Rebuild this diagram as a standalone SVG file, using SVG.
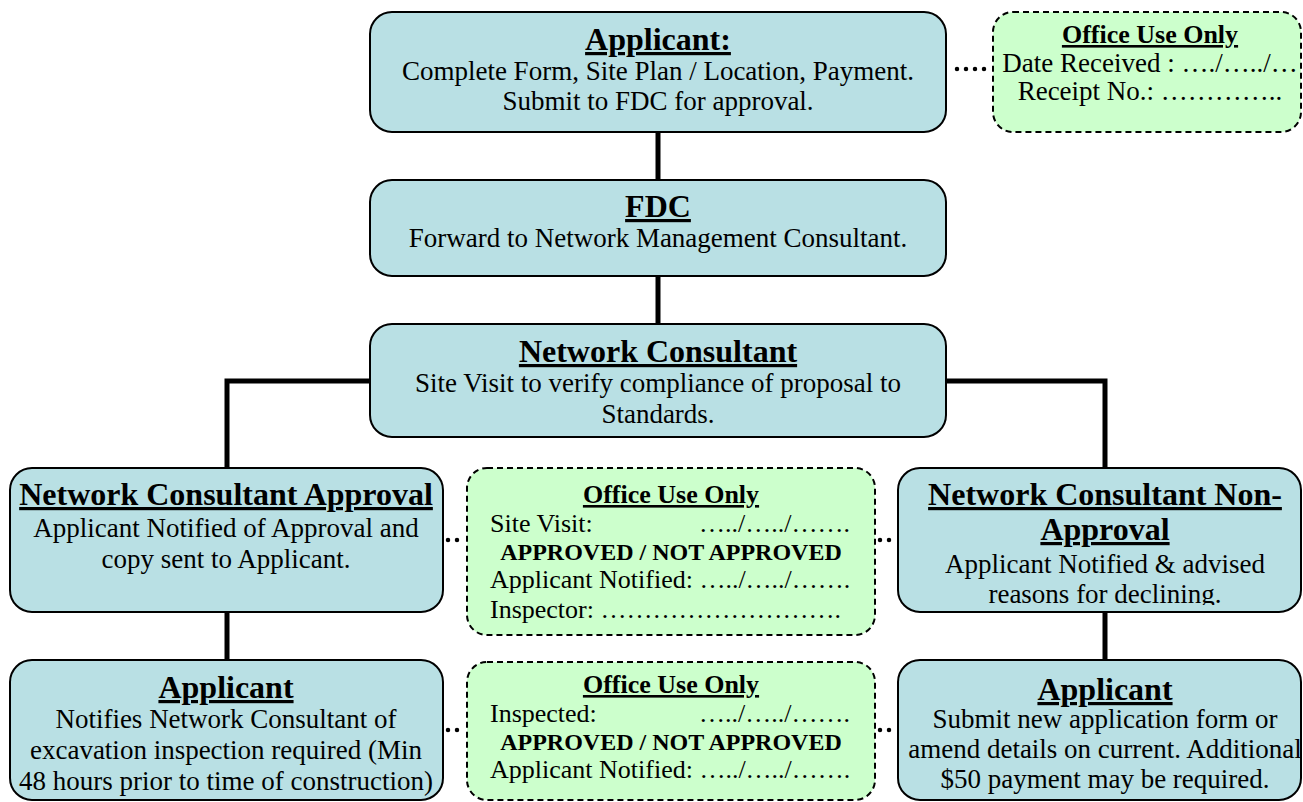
<svg xmlns="http://www.w3.org/2000/svg" width="1303" height="802" viewBox="0 0 1303 802">
<style>
.box{fill:#b9e0e4;stroke:#000;stroke-width:2}
.office{fill:#ccffcc;stroke:#000;stroke-width:2;stroke-dasharray:6 4}
.link{fill:none;stroke:#000;stroke-width:5}
.dots{fill:none;stroke:#000;stroke-width:4.5;stroke-linecap:round;stroke-dasharray:0 9}
text{font-family:"Liberation Serif","Times New Roman",serif;fill:#000}
.t{font-size:32px;font-weight:bold;text-anchor:middle;text-decoration:underline}
.b{font-size:27px;text-anchor:middle}
.ot{font-size:26px;font-weight:bold;text-anchor:middle;text-decoration:underline}
.ob{font-size:26px}
.obr{font-size:26px;text-anchor:end}
.oc{font-size:24px;font-weight:bold;text-anchor:middle}
</style>
<defs>
<clipPath id="clipNA"><rect x="898" y="468" width="405" height="137"/></clipPath>
</defs>
<rect width="1303" height="802" fill="#fff"/>
<g id="connectors">
<line class="link" x1="658" y1="132" x2="658" y2="180"/>
<line class="link" x1="658" y1="276" x2="658" y2="324"/>
<polyline class="link" points="370,381 227,381 227,468"/>
<polyline class="link" points="946,381 1105,381 1105,468"/>
<line class="link" x1="227" y1="612" x2="227" y2="660"/>
<line class="link" x1="1105" y1="612" x2="1105" y2="660"/>
<line class="dots" x1="957" y1="69" x2="993" y2="69"/>
<line class="dots" x1="448" y1="540" x2="466" y2="540"/>
<line class="dots" x1="880" y1="540" x2="898" y2="540"/>
<line class="dots" x1="448" y1="730" x2="466" y2="730"/>
<line class="dots" x1="880" y1="730" x2="898" y2="730"/>
</g>
<g id="applicant-top">
<rect class="box" x="370" y="12" width="576" height="120" rx="22"/>
<text class="t" x="658" y="50">Applicant:</text>
<text class="b" x="658" y="80">Complete Form, Site Plan / Location, Payment.</text>
<text class="b" x="658" y="110">Submit to FDC for approval.</text>
</g>
<g id="office-top">
<rect class="office" x="993" y="12" width="308" height="120" rx="20"/>
<text class="ot" x="1150" y="43">Office Use Only</text>
<text class="b" x="1150" y="72">Date Received : …./…../…</text>
<text class="b" x="1150" y="100">Receipt No.: …………..</text>
</g>
<g id="fdc">
<rect class="box" x="370" y="180" width="576" height="96" rx="22"/>
<text class="t" x="658" y="217">FDC</text>
<text class="b" x="658" y="247">Forward to Network Management Consultant.</text>
</g>
<g id="network-consultant">
<rect class="box" x="370" y="324" width="576" height="113" rx="22"/>
<text class="t" x="658" y="362">Network Consultant</text>
<text class="b" x="658" y="392">Site Visit to verify compliance of proposal to</text>
<text class="b" x="658" y="423">Standards.</text>
</g>
<g id="nc-approval">
<rect class="box" x="10" y="468" width="433" height="144" rx="22"/>
<text class="t" x="226" y="505">Network Consultant Approval</text>
<text class="b" x="226" y="537">Applicant Notified of Approval and</text>
<text class="b" x="226" y="568">copy sent to Applicant.</text>
</g>
<g id="office-mid">
<rect class="office" x="467" y="468" width="408" height="167" rx="20"/>
<text class="ot" x="671" y="503">Office Use Only</text>
<text class="ob" x="490" y="532">Site Visit:</text>
<text class="obr" x="850" y="532">…../…../…….</text>
<text class="oc" x="671" y="560">APPROVED / NOT APPROVED</text>
<text class="ob" x="490" y="588">Applicant Notified: …../…../…….</text>
<text class="ob" x="490" y="618">Inspector: ……………………….</text>
</g>
<g id="nc-non-approval">
<rect class="box" x="898" y="468" width="403" height="144" rx="22"/>
<text class="t" x="1105" y="505">Network Consultant Non-</text>
<text class="t" x="1105" y="540">Approval</text>
<text class="b" x="1105" y="573">Applicant Notified &amp; advised</text>
<text class="b" x="1105" y="603" clip-path="url(#clipNA)">reasons for declining.</text>
</g>
<g id="applicant-left">
<rect class="box" x="10" y="660" width="433" height="140" rx="22"/>
<text class="t" x="226" y="698">Applicant</text>
<text class="b" x="226" y="728">Notifies Network Consultant of</text>
<text class="b" x="226" y="759">excavation inspection required (Min</text>
<text class="b" x="226" y="790">48 hours prior to time of construction)</text>
</g>
<g id="office-bottom">
<rect class="office" x="467" y="662" width="408" height="138" rx="20"/>
<text class="ot" x="671" y="693">Office Use Only</text>
<text class="ob" x="490" y="722">Inspected:</text>
<text class="obr" x="850" y="722">…../…../…….</text>
<text class="oc" x="671" y="750">APPROVED / NOT APPROVED</text>
<text class="ob" x="490" y="778">Applicant Notified: …../…../…….</text>
</g>
<g id="applicant-right">
<rect class="box" x="898" y="660" width="403" height="140" rx="22"/>
<text class="t" x="1105" y="700">Applicant</text>
<text class="b" x="1105" y="728">Submit new application form or</text>
<text class="b" x="1105" y="758">amend details on current. Additional</text>
<text class="b" x="1105" y="788">$50 payment may be required.</text>
</g>
</svg>
